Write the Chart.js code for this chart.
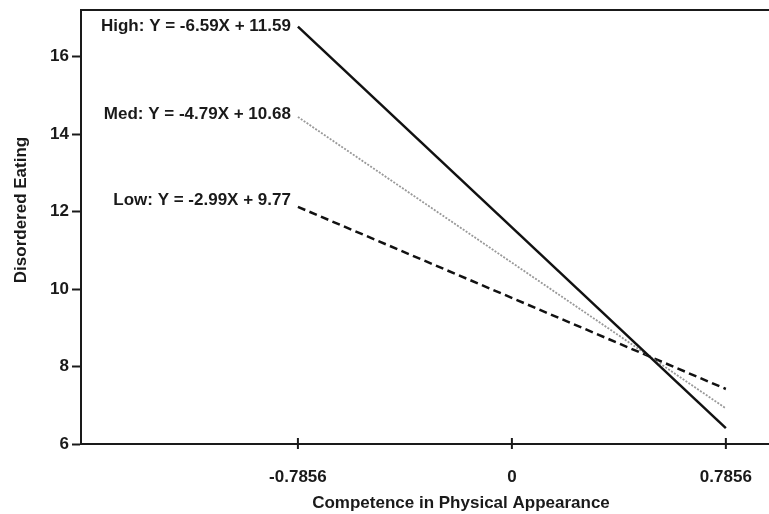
<!DOCTYPE html>
<html><head><meta charset="utf-8">
<script src="https://cdn.jsdelivr.net/npm/chart.js@4.4.0/dist/chart.umd.min.js"></script>
<style>html,body{margin:0;padding:0;background:#fff}#wrap{width:769px;height:514px}</style>
</head><body><div id="wrap"><canvas id="c"></canvas></div>
<script>
const xValues = [-0.7856, 0.7856];
const highValues = [16.77, 6.41];
const medValues = [14.44, 6.92];
const lowValues = [12.12, 7.42];
const xTicks = [-0.7856, 0, 0.7856];
const yTicks = [6, 8, 10, 12, 14, 16];
const seriesLabels = ['High: Y = -6.59X + 11.59', 'Med: Y = -4.79X + 10.68', 'Low: Y = -2.99X + 9.77'];
const xTitle = 'Competence in Physical Appearance';
const yTitle = 'Disordered Eating';

const INK = '#1a1a1a';
const FAMILY = '"Liberation Sans", Arial, sans-serif';
const FONT = 'bold 17px ' + FAMILY;
const pts = arr => arr.map((v, i) => ({x: xValues[i], y: v}));

const deco = {
  id: 'deco',
  afterDraw(chart) {
    const {ctx, chartArea: a, scales: {x, y}} = chart;
    ctx.save();
    ctx.strokeStyle = INK; ctx.lineWidth = 2;
    // top frame line
    ctx.beginPath(); ctx.moveTo(a.left - 1, a.top); ctx.lineTo(chart.width, a.top); ctx.stroke();
    // x ticks crossing axis
    xTicks.forEach(v => {
      const px = x.getPixelForValue(v);
      ctx.beginPath(); ctx.moveTo(px, a.bottom - 6); ctx.lineTo(px, a.bottom + 5); ctx.stroke();
    });
    // series labels near line starts
    ctx.fillStyle = INK; ctx.font = FONT; ctx.textAlign = 'right'; ctx.textBaseline = 'middle';
    const dys = [0, -3, -7];
    [highValues, medValues, lowValues].forEach((arr, i) => {
      const px = x.getPixelForValue(xValues[0]) - 7;
      const py = y.getPixelForValue(arr[0]) + dys[i];
      ctx.fillText(seriesLabels[i], px, py);
    });
    // axis titles
    ctx.textAlign = 'center';
    ctx.fillText(xTitle, 461, 503);
    ctx.translate(21, 210); ctx.rotate(-Math.PI / 2);
    ctx.fillText(yTitle, 0, 0);
    ctx.restore();
  }
};

new Chart(document.getElementById('c'), {
  type: 'scatter',
  data: {
    datasets: [
      {data: pts(highValues), showLine: true, borderColor: '#111', borderWidth: 2.5, pointRadius: 0},
      {data: pts(medValues), showLine: true, borderColor: '#999', borderWidth: 1.8, borderDash: [2, 1.5], pointRadius: 0},
      {data: pts(lowValues), showLine: true, borderColor: '#111', borderWidth: 2.5, borderDash: [8, 4.5], pointRadius: 0}
    ]
  },
  options: {
    responsive: true, maintainAspectRatio: false, animation: false,
    layout: {padding: {top: 10, right: 0, left: 0, bottom: 0}},
    plugins: {legend: {display: false}, tooltip: {enabled: false}},
    scales: {
      x: {
        type: 'linear', min: -1.582, max: 0.944,
        afterBuildTicks: s => { s.ticks = xTicks.map(v => ({value: v})); },
        afterFit: s => { s.height = 70; s.paddingLeft = 0; s.paddingRight = 0; },
        ticks: {color: INK, font: {family: FAMILY, size: 17, weight: 'bold'}, padding: 23, maxRotation: 0, callback: v => String(v)},
        grid: {drawOnChartArea: false, drawTicks: false},
        border: {display: true, color: INK, width: 2}
      },
      y: {
        min: 6, max: 17.2,
        afterBuildTicks: s => { s.ticks = yTicks.map(v => ({value: v})); },
        afterFit: s => { s.width = 81; s.paddingTop = 0; s.paddingBottom = 0; },
        ticks: {color: INK, font: {family: FAMILY, size: 17, weight: 'bold'}, padding: 3, callback: v => String(v)},
        grid: {drawOnChartArea: false, drawTicks: true, tickLength: 9, color: INK, tickWidth: 2},
        border: {display: true, color: INK, width: 2}
      }
    }
  },
  plugins: [deco]
});
</script></body></html>
